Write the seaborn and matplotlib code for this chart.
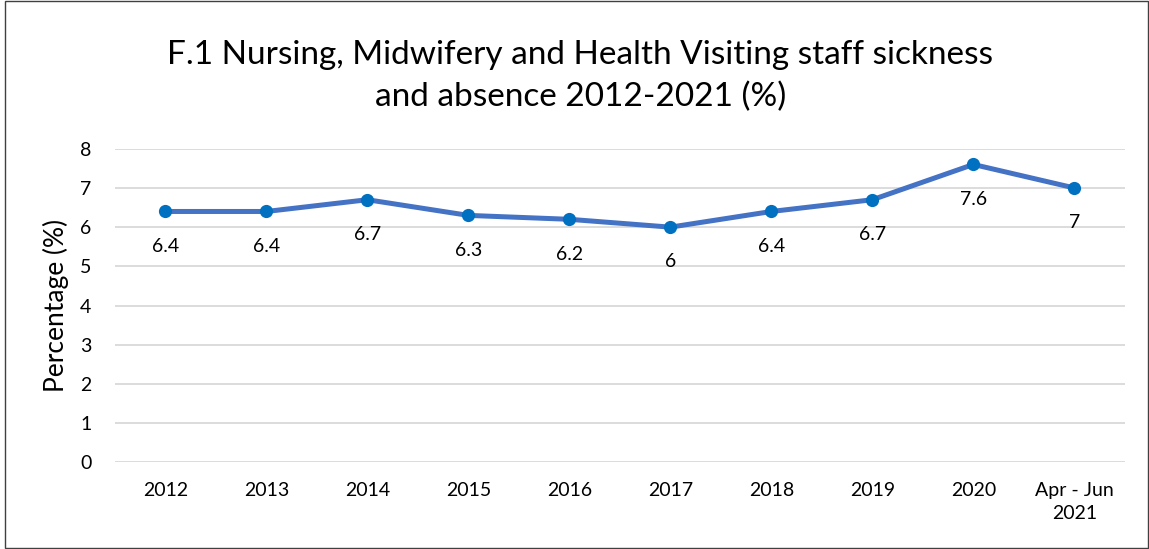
import matplotlib
matplotlib.use("Agg")
import matplotlib.pyplot as plt
import seaborn as sns
import pandas as pd

categories = ["2012", "2013", "2014", "2015", "2016", "2017", "2018", "2019", "2020", "Apr - Jun\n2021"]
values = [6.4, 6.4, 6.7, 6.3, 6.2, 6.0, 6.4, 6.7, 7.6, 7.0]
value_labels = ["6.4", "6.4", "6.7", "6.3", "6.2", "6", "6.4", "6.7", "7.6", "7"]
title = "F.1 Nursing, Midwifery and Health Visiting staff sickness\nand absence 2012-2021 (%)"

sns.set_theme(style="white")
plt.rcParams['font.family'] = ['Lato', 'DejaVu Sans']

df = pd.DataFrame({"cat": categories, "val": values, "pos": range(len(categories))})

fig = plt.figure(figsize=(11.49, 5.49), dpi=100)
ax = fig.add_axes([0.100, 0.158, 0.879, 0.571])

sns.lineplot(data=df, x="pos", y="val", ax=ax, color="#4472C4", linewidth=3.6,
             marker="o", markersize=9.5, markeredgewidth=0, markerfacecolor="#0070C0")

for i, (v, lab) in enumerate(zip(values, value_labels)):
    ax.annotate(lab, (i, v), xytext=(0, -25), textcoords="offset points",
                ha="center", va="center", fontsize=14, color="#000000")

ax.set_xlim(-0.5, len(categories) - 0.5)
ax.set_ylim(0, 8)
ax.set_yticks(range(0, 9))
ax.set_xticks(range(len(categories)))
ax.set_xticklabels(categories, linespacing=1.45)
ax.tick_params(axis="both", labelsize=14, colors="#000000", length=0)
ax.tick_params(axis="y", pad=17)
ax.tick_params(axis="x", pad=14)
ax.grid(axis="y", color="#D9D9D9", linewidth=1.3)
ax.grid(axis="x", visible=False)
for s in ax.spines.values():
    s.set_visible(False)
ax.set_xlabel("")
ax.set_ylabel("Percentage (%)", fontsize=19, color="#000000", labelpad=8)

fig.text(0.505, 0.795, title, ha="center", va="bottom", fontsize=24, color="#000000", linespacing=1.5)

border = plt.Rectangle((0.004, 0.001), 0.995, 0.998, transform=fig.transFigure,
                       fill=False, edgecolor="#404040", linewidth=1)
fig.patches.append(border)

fig.savefig("out.png", dpi=100)
